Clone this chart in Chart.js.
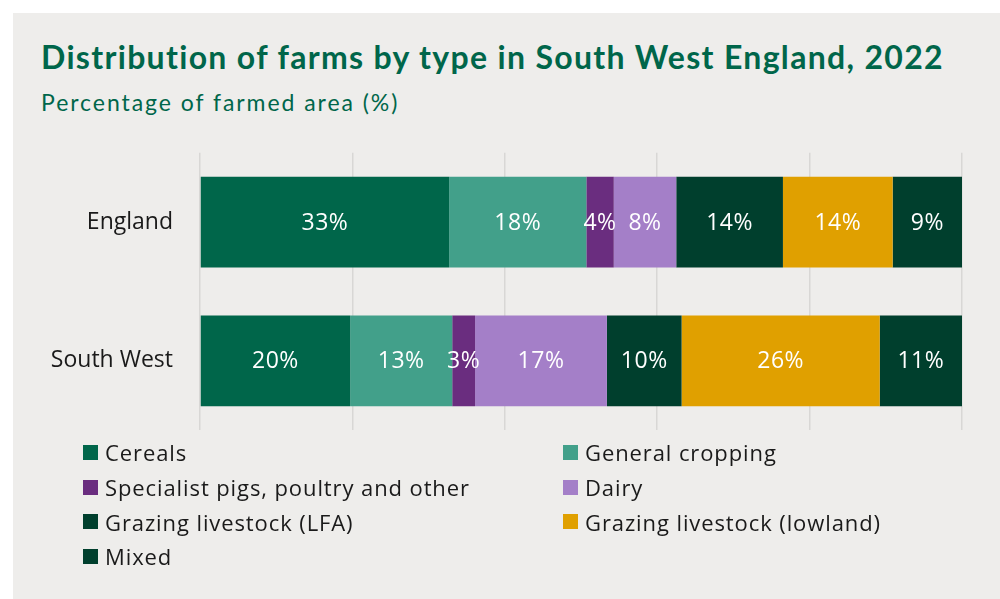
<!DOCTYPE html>
<html>
<head>
<meta charset="utf-8">
<script src="https://cdn.jsdelivr.net/npm/chart.js@4.4.1/dist/chart.umd.min.js"></script>
<style>
  html, body { margin: 0; padding: 0; background: #ffffff; }
  body { width: 1000px; height: 599px; position: relative; overflow: hidden; }
  .panel { position: absolute; left: 13px; top: 13px; right: 0; bottom: 0; background: #eeedeb; }
  .title { position: absolute; left: 41px; top: 37px; margin: 0; font: 700 32px Lato, sans-serif; letter-spacing: 1.32px; color: #00664a; white-space: nowrap; }
  .subtitle { position: absolute; left: 41px; top: 88px; margin: 0; font: 400 23px Lato, sans-serif; letter-spacing: 1.95px; color: #00664a; white-space: nowrap; }
  .chart-box { position: absolute; left: 0; top: 112px; width: 1000px; height: 359px; }
  .legend { position: absolute; left: 83px; top: 435px; display: grid; grid-template-columns: 480px 400px; grid-auto-rows: 34.7px; }
  .legend-item { display: flex; align-items: center; font: 400 22px "Open Sans", sans-serif; letter-spacing: 0.9px; color: #1a1a1a; white-space: nowrap; }
  .legend-item span.box { width: 15px; height: 15px; margin-right: 7px; flex: none; }
</style>
</head>
<body>
<div class="panel"></div>
<h1 class="title">Distribution of farms by type in South West England, 2022</h1>
<p class="subtitle">Percentage of farmed area (%)</p>
<div class="chart-box"><canvas id="farmChart"></canvas></div>
<div class="legend" id="legend"></div>

<script>
const regions = ['England', 'South West'];
const farmTypes = [
    'Cereals',
    'General cropping',
    'Specialist pigs, poultry and other',
    'Dairy',
    'Grazing livestock (LFA)',
    'Grazing livestock (lowland)',
    'Mixed'
];
const englandShares = [32.7, 18.0, 3.6, 8.2, 14.0, 14.4, 9.1];
const southWestShares = [19.7, 13.4, 3.0, 17.3, 9.8, 26.0, 10.8];
const typeColours = ['#00664a', '#42a08a', '#6a2d7f', '#a47fc8', '#003f2d', '#e0a000', '#003f2d'];
const xTicks = [0, 20, 40, 60, 80, 100];

const datasets = farmTypes.map((type, i) => {
    return {
        label: type,
        data: [englandShares[i], southWestShares[i]],
        backgroundColor: typeColours[i],
        borderWidth: 0
    };
});

// white % labels in the middle of each segment
const segmentLabels = {
    id: 'segmentLabels',
    afterDatasetsDraw(chart) {
        const ctx = chart.ctx;
        ctx.save();
        ctx.fillStyle = '#ffffff';
        ctx.font = '400 23px "Open Sans", sans-serif';
        ctx.letterSpacing = '0.5px';
        ctx.textAlign = 'center';
        ctx.textBaseline = 'middle';
        chart.data.datasets.forEach((ds, i) => {
            const meta = chart.getDatasetMeta(i);
            meta.data.forEach((bar, j) => {
                const pt = bar.getCenterPoint();
                ctx.fillText(Math.round(ds.data[j]) + '%', pt.x, pt.y + 1);
            });
        });
        ctx.restore();
    }
};

new Chart(document.getElementById('farmChart'), {
    type: 'bar',
    data: {
        labels: regions,
        datasets: datasets
    },
    options: {
        indexAxis: 'y',
        responsive: true,
        maintainAspectRatio: false,
        animation: false,
        layout: { padding: { top: 12, bottom: 10, right: 38, left: 0 } },
        plugins: {
            legend: { display: false },
            tooltip: { enabled: false }
        },
        datasets: {
            bar: { categoryPercentage: 1, barPercentage: 0.655 }
        },
        scales: {
            x: {
                stacked: true,
                min: 0,
                max: 100,
                afterBuildTicks: axis => { axis.ticks = xTicks.map(v => ({ value: v })); },
                ticks: { display: false },
                border: { display: false },
                grid: { color: '#d8d7d5', lineWidth: 1.5, drawTicks: false }
            },
            y: {
                stacked: true,
                afterFit: axis => { axis.width = 200; },
                border: { display: false },
                grid: { display: false, drawTicks: false },
                ticks: {
                    padding: 27,
                    color: '#1a1a1a',
                    font: { family: '"Open Sans", sans-serif', size: 23 }
                }
            }
        }
    },
    plugins: [segmentLabels]
});

// two-column legend built from the same arrays
const legendEl = document.getElementById('legend');
farmTypes.forEach((type, i) => {
    const item = document.createElement('div');
    item.className = 'legend-item';
    const box = document.createElement('span');
    box.className = 'box';
    box.style.background = typeColours[i];
    item.appendChild(box);
    item.appendChild(document.createTextNode(type));
    legendEl.appendChild(item);
});
</script>
</body>
</html>
